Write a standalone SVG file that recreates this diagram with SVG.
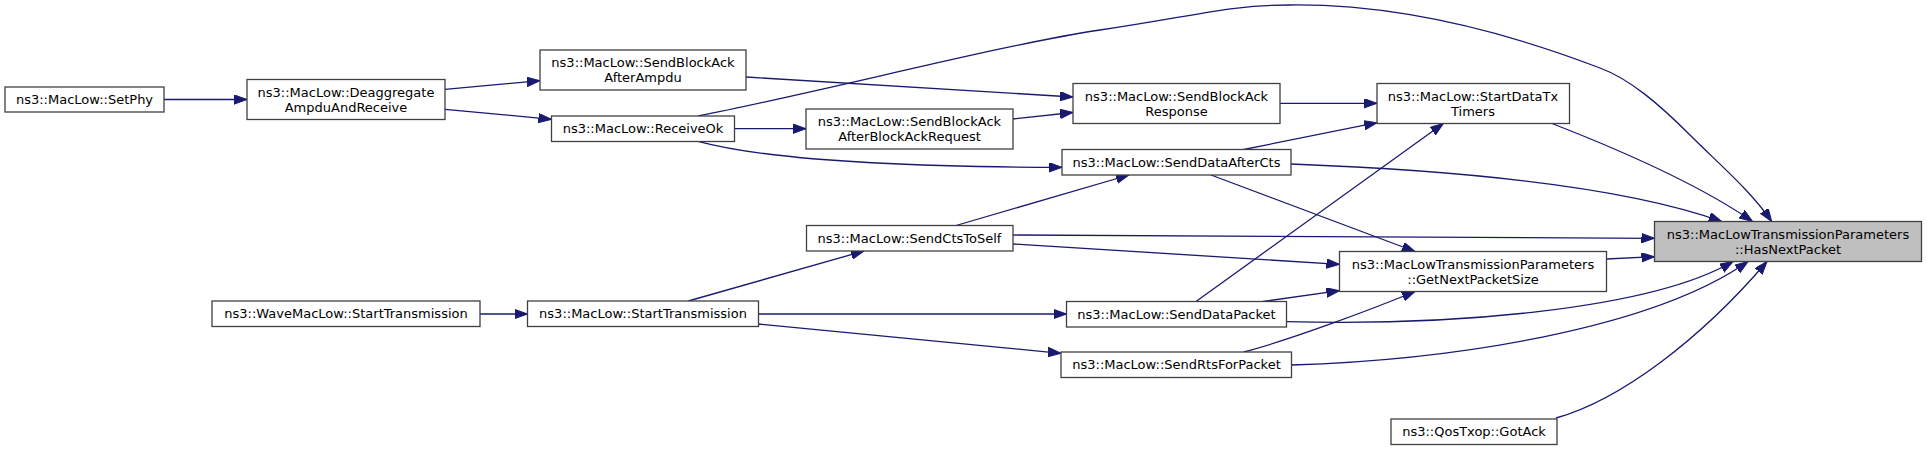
<svg xmlns="http://www.w3.org/2000/svg" width="1927" height="450" viewBox="0 0 1927 450">
<defs>
<marker id="arr" markerUnits="userSpaceOnUse" markerWidth="14" markerHeight="10" refX="13" refY="4.7" orient="auto">
<path d="M0,0 L13,4.7 L0,9.4 z" fill="#191970" stroke="#191970" stroke-width="1"/>
</marker>
<style>
.n rect{fill:#ffffff;stroke:#404040;stroke-width:1.3}
.n.hl rect{fill:#bfbfbf}
.n text{font-family:"DejaVu Sans",sans-serif;font-size:13px;fill:#000000;text-anchor:middle}
#edges path{fill:none;stroke:#191970;stroke-width:1.3;marker-end:url(#arr)}
</style>
</defs>
<rect x="0" y="0" width="1927" height="450" fill="#ffffff"/>
<g id="edges">
<path d="M164,99.5 L247,99.5"/>
<path d="M445,89.3 L540,80.7"/>
<path d="M445,109.3 L551.5,119.3"/>
<path d="M734.5,128.7 L806,128.7"/>
<path d="M746,77 L1073,97"/>
<path d="M1013,119 L1073,112.5"/>
<path d="M1280,103.3 L1377,103.3"/>
<path d="M1243.6,149.5 L1377,122.7"/>
<path d="M1196,301.5 L1443.3,123.5"/>
<path d="M698,116 C830,90 1000,45 1100,30 C1200,15 1230,5 1290,5 C1380,4 1480,22 1600,68 C1630,79 1660,105 1690,135 C1720,165 1750,190 1771.7,221.5"/>
<path d="M698,141.3 C760,158 880,167 1062,167.3"/>
<path d="M956,225.5 L1129,175"/>
<path d="M688.3,301 L864,251"/>
<path d="M480,314 L527.5,314"/>
<path d="M758.5,314 L1066.5,314"/>
<path d="M758.5,324 L1061,353.3"/>
<path d="M1211,175 L1415,251.5"/>
<path d="M1013,244 L1339.5,264.3"/>
<path d="M1263,301.5 L1339.5,290.7"/>
<path d="M1243.6,352 C1290,340 1370,310 1415,291.5"/>
<path d="M1606.5,259 L1654.5,256.7"/>
<path d="M1013,235 C1300,235 1500,236 1654.5,238.3"/>
<path d="M1291,164 C1450,170 1620,185 1721.7,221.5"/>
<path d="M1552,123.5 C1620,150 1700,185 1752.5,221.5"/>
<path d="M1286.5,321.7 C1450,326 1650,310 1733,261.5"/>
<path d="M1291.5,365 C1450,360 1650,330 1748,261.5"/>
<path d="M1556,418 C1620,400 1700,340 1767,261.5"/>
</g>
<g id="setphy" class="n"><rect x="5" y="87" width="159" height="25"/><text x="84.5" y="104">ns3::MacLow::SetPhy</text></g>
<g id="deaggregate" class="n"><rect x="247" y="79.5" width="198" height="40"/><text x="346" y="96.5">ns3::MacLow::Deaggregate</text><text x="346" y="111.5">AmpduAndReceive</text></g>
<g id="afterampdu" class="n"><rect x="540" y="50" width="206" height="40"/><text x="643" y="67">ns3::MacLow::SendBlockAck</text><text x="643" y="82">AfterAmpdu</text></g>
<g id="receiveok" class="n"><rect x="551.5" y="116" width="183" height="25.5"/><text x="643" y="133">ns3::MacLow::ReceiveOk</text></g>
<g id="afterbar" class="n"><rect x="806" y="109" width="207" height="40"/><text x="909.5" y="126">ns3::MacLow::SendBlockAck</text><text x="909.5" y="141">AfterBlockAckRequest</text></g>
<g id="response" class="n"><rect x="1073" y="83.5" width="207" height="40"/><text x="1176.5" y="100.5">ns3::MacLow::SendBlockAck</text><text x="1176.5" y="115.5">Response</text></g>
<g id="senddataaftercts" class="n"><rect x="1062" y="149.5" width="229" height="25.5"/><text x="1176.5" y="166.5">ns3::MacLow::SendDataAfterCts</text></g>
<g id="startdatatx" class="n"><rect x="1377" y="83.5" width="192.5" height="40"/><text x="1473" y="100.5">ns3::MacLow::StartDataTx</text><text x="1473" y="115.5">Timers</text></g>
<g id="sendctstoself" class="n"><rect x="806.5" y="225.5" width="206.5" height="25.5"/><text x="909.5" y="242.5">ns3::MacLow::SendCtsToSelf</text></g>
<g id="wavestart" class="n"><rect x="212" y="301" width="268" height="25.5"/><text x="346" y="318">ns3::WaveMacLow::StartTransmission</text></g>
<g id="macstart" class="n"><rect x="527.5" y="301" width="231" height="25.5"/><text x="643" y="318">ns3::MacLow::StartTransmission</text></g>
<g id="senddatapacket" class="n"><rect x="1066.5" y="301.5" width="220" height="25.5"/><text x="1176.5" y="318.5">ns3::MacLow::SendDataPacket</text></g>
<g id="sendrts" class="n"><rect x="1061" y="352" width="230.5" height="25.5"/><text x="1176.5" y="369">ns3::MacLow::SendRtsForPacket</text></g>
<g id="getnextsize" class="n"><rect x="1339.5" y="251.5" width="267" height="40"/><text x="1473" y="268.5">ns3::MacLowTransmissionParameters</text><text x="1473" y="283.5">::GetNextPacketSize</text></g>
<g id="hasnextpacket" class="n hl"><rect x="1654.5" y="221.5" width="267" height="40"/><text x="1788" y="238.5">ns3::MacLowTransmissionParameters</text><text x="1788" y="253.5">::HasNextPacket</text></g>
<g id="gotack" class="n"><rect x="1391" y="419" width="166" height="25.5"/><text x="1474" y="436">ns3::QosTxop::GotAck</text></g>
</svg>
